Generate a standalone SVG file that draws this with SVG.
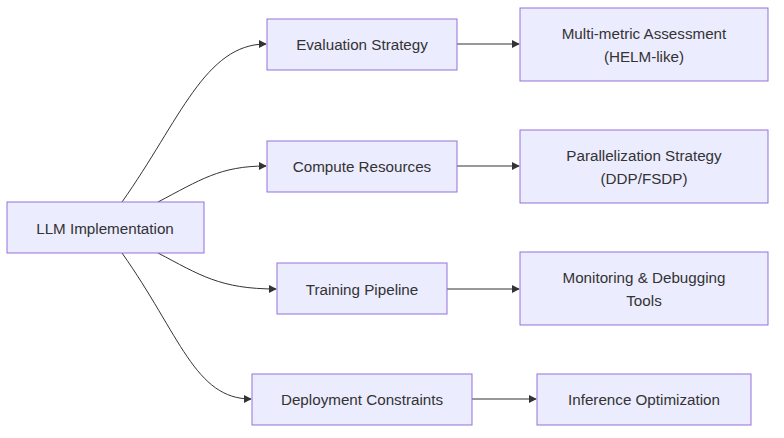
<svg xmlns="http://www.w3.org/2000/svg" width="784" height="438" viewBox="0 0 784 438">
<defs>
<style>
.n rect{fill:#ECECFF;stroke:#9370DB;stroke-width:1}
.n text{font-family:"Liberation Sans",Arial,sans-serif;font-size:15.2px;fill:#333;text-anchor:middle;dominant-baseline:central}
.e path{fill:none;stroke:#333;stroke-width:1;marker-end:url(#a)}
</style>
<marker id="a" viewBox="0 0 10 10" refX="9" refY="5" markerWidth="8" markerHeight="8" orient="auto"><path d="M0,0L10,5L0,10z" fill="#333"/></marker>
</defs>
<rect width="784" height="438" fill="#fff"/>
<g class="e">
<path d="M122,202C180,120 205,44 266,44"/>
<path d="M158,202C200,180 220,166 266,166"/>
<path d="M158,253C200,275 220,289 276,289"/>
<path d="M122,253C180,335 195,399 251,399"/>
<path d="M457,44H519"/>
<path d="M457,166H519"/>
<path d="M447,289H519"/>
<path d="M472,399H536"/>
</g>
<g class="n" id="llm"><rect x="7" y="202" width="197" height="51"/><text x="105" y="228">LLM Implementation</text></g>
<g class="n" id="eval"><rect x="267" y="19" width="190" height="51"/><text x="362" y="44">Evaluation Strategy</text></g>
<g class="n" id="compute"><rect x="267" y="141" width="190" height="51"/><text x="362" y="166">Compute Resources</text></g>
<g class="n" id="train"><rect x="277" y="263" width="170" height="51"/><text x="362" y="289">Training Pipeline</text></g>
<g class="n" id="deploy"><rect x="252" y="374" width="220" height="51"/><text x="362" y="399">Deployment Constraints</text></g>
<g class="n" id="multi"><rect x="520" y="8" width="248" height="73"/><text x="644" y="33">Multi-metric Assessment</text><text x="644" y="56">(HELM-like)</text></g>
<g class="n" id="par"><rect x="520" y="130" width="248" height="73"/><text x="644" y="155">Parallelization Strategy</text><text x="644" y="178">(DDP/FSDP)</text></g>
<g class="n" id="mon"><rect x="520" y="252" width="248" height="73"/><text x="644" y="277">Monitoring &amp; Debugging</text><text x="644" y="300">Tools</text></g>
<g class="n" id="inf"><rect x="537" y="374" width="214" height="51"/><text x="644" y="399">Inference Optimization</text></g>
</svg>
